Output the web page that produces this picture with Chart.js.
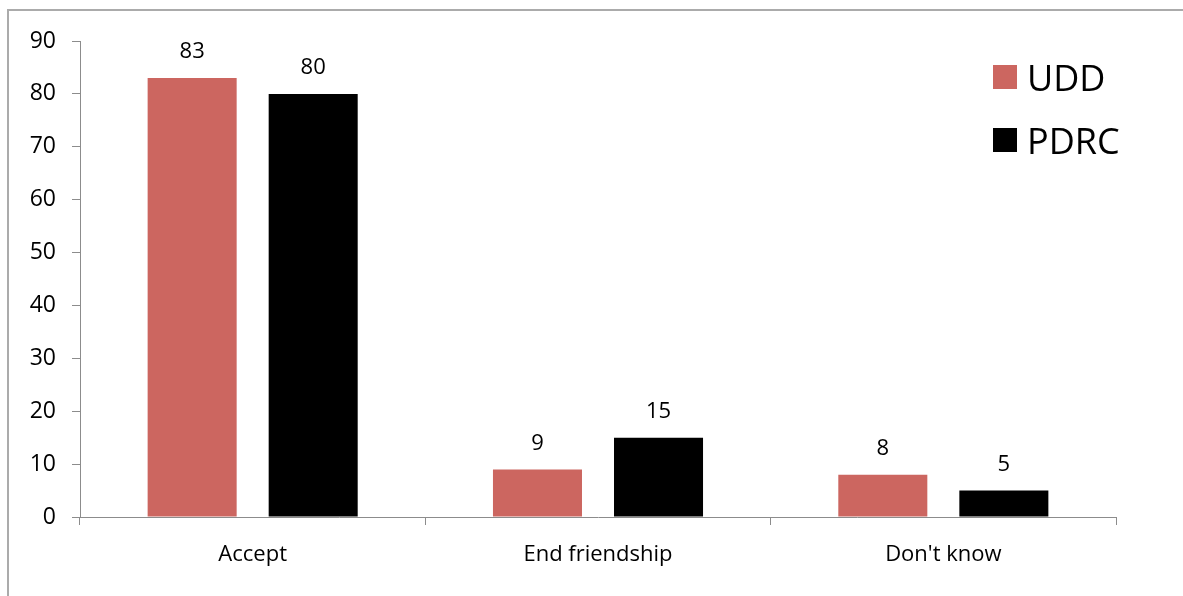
<!DOCTYPE html>
<html>
<head>
<meta charset="utf-8">
<script src="https://cdn.jsdelivr.net/npm/chart.js@4"></script>
<style>
  html, body { margin: 0; padding: 0; background: #fff; overflow: hidden; }
  #frame { position: absolute; left: 7px; top: 9px; width: 2000px; height: 2000px; border: 2px solid #ababab; }
  #myChart { position: absolute; left: 0; top: 0; }
</style>
</head>
<body>
<div id="frame"></div>
<canvas id="myChart" width="1183" height="596"></canvas>
<script>
var categories = ["Accept", "End friendship", "Don't know"];
var uddValues = [83, 9, 8];
var pdrcValues = [80, 15, 5];
var seriesNames = ["UDD", "PDRC"];
var seriesColors = ["#cc6660", "#000000"];

var FONT = "'Open Sans', sans-serif";

// values above bars
var valueLabels = {
    id: 'valueLabels',
    afterDatasetsDraw: function (chart) {
        var ctx = chart.ctx;
        ctx.save();
        ctx.font = "22px " + FONT;
        ctx.fillStyle = "#000";
        ctx.textAlign = "center";
        ctx.textBaseline = "middle";
        chart.data.datasets.forEach(function (ds, i) {
            chart.getDatasetMeta(i).data.forEach(function (bar, j) {
                ctx.fillText(ds.data[j], bar.x, bar.y - 26);
            });
        });
        ctx.restore();
    }
};

// legend at top right, drawn from the datasets
var sideLegend = {
    id: 'sideLegend',
    afterDraw: function (chart) {
        var ctx = chart.ctx;
        ctx.save();
        ctx.font = "36px " + FONT;
        ctx.textBaseline = "middle";
        ctx.textAlign = "left";
        chart.data.datasets.forEach(function (ds, i) {
            var y = 65 + i * 63;
            ctx.fillStyle = ds.backgroundColor;
            ctx.fillRect(993, y, 24, 24);
            ctx.fillStyle = "#000";
            ctx.fillText(ds.label, 1027, y + 16);
        });
        ctx.restore();
    }
};

var ctx = document.getElementById("myChart");
var myBarChart = new Chart(ctx, {
    type: 'bar',
    data: {
        labels: categories,
        datasets: [{
            label: seriesNames[0],
            backgroundColor: seriesColors[0],
            data: uddValues
        }, {
            label: seriesNames[1],
            backgroundColor: seriesColors[1],
            data: pdrcValues
        }]
    },
    options: {
        responsive: false,
        animation: false,
        categoryPercentage: 0.701,
        barPercentage: 0.7355,
        layout: { padding: { top: 41, right: 67, bottom: 0, left: 0 } },
        plugins: {
            legend: { display: false },
            tooltip: { enabled: false }
        },
        scales: {
            x: {
                grid: { drawOnChartArea: false, drawTicks: true, tickLength: 8, color: '#8c8c8c', offset: true },
                border: { color: '#8c8c8c', width: 1 },
                ticks: { color: '#000', font: { family: FONT, size: 22 }, padding: 17, maxRotation: 0 },
                afterFit: function (scale) { scale.height = 79; }
            },
            y: {
                min: 0,
                max: 90,
                grid: { drawOnChartArea: false, drawTicks: true, tickLength: 8, color: '#8c8c8c' },
                border: { color: '#8c8c8c', width: 1 },
                ticks: { stepSize: 10, color: '#000', font: { family: FONT, size: 23 }, padding: 16 },
                afterFit: function (scale) { scale.width = 80; }
            }
        }
    },
    plugins: [valueLabels, sideLegend]
});
</script>
</body>
</html>
